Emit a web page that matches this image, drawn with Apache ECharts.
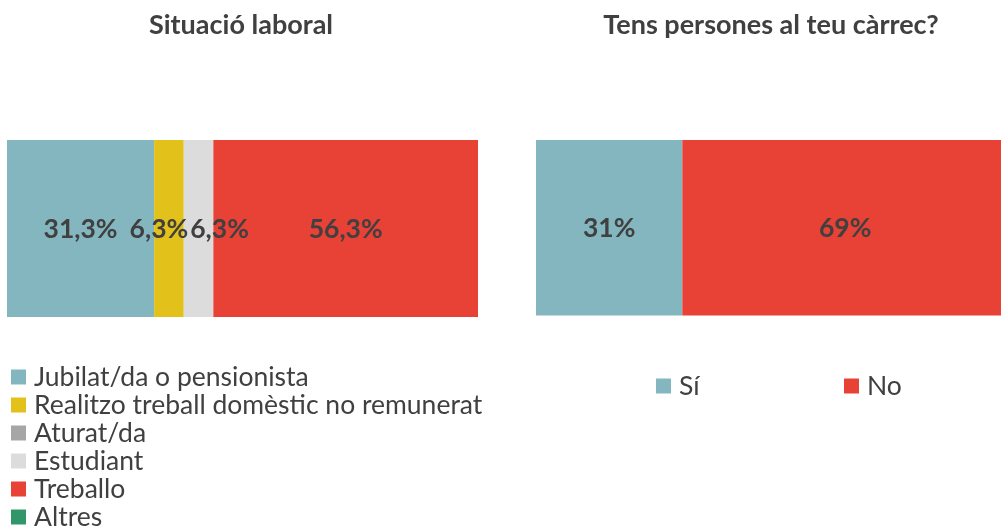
<!DOCTYPE html>
<html>
<head>
<meta charset="utf-8">
<script src="https://cdn.jsdelivr.net/npm/echarts@6/dist/echarts.min.js"></script>
<style>
html,body{margin:0;padding:0;background:#fff;}
#chart{width:1001px;height:530px;}
</style>
</head>
<body>
<div id="chart"></div>
<script>
const leftTitle = 'Situació laboral';
const leftCategories = ['Jubilat/da o pensionista', 'Realitzo treball domèstic no remunerat', 'Aturat/da', 'Estudiant', 'Treballo', 'Altres'];
const leftValues = [31.3, 6.3, 0, 6.3, 56.3, 0];

const rightTitle = 'Tens persones al teu càrrec?';
const rightCategories = ['Sí', 'No'];
const rightValues = [31, 69];

const leftColors = ['#84B6C0', '#E2C11B', '#A6A6A6', '#DCDCDC', '#E84135', '#31976A'];
const rightColors = ['#84B6C0', '#E84135'];
const leftLabelOffsets = [[0,1],[-10,1],[0,1],[21,1],[0,1],[0,1]];

const FONT = 'Lato';
const TEXT = '#404040';

const chart = echarts.init(document.getElementById('chart'), null, {renderer: 'canvas'});

function fmt(v, dec) {
  return v.toFixed(dec).replace('.', ',') + '%';
}

const leftSum = leftValues.reduce((a, b) => a + b, 0);
const rightSum = rightValues.reduce((a, b) => a + b, 0);

const series = [];
leftCategories.forEach((name, i) => {
  series.push({
    name: name,
    type: 'bar',
    stack: 'left',
    xAxisIndex: 0,
    yAxisIndex: 0,
    barWidth: '100%',
    data: [leftValues[i]],
    itemStyle: {color: leftColors[i]},
    label: {
      show: leftValues[i] > 0,
      position: 'inside',
      offset: leftLabelOffsets[i],
      formatter: p => p.value > 0 ? fmt(p.value, 1) : '',
      fontFamily: FONT, fontSize: 26.5, fontWeight: 'bold', color: TEXT
    }
  });
});
rightCategories.forEach((name, i) => {
  series.push({
    name: name,
    type: 'bar',
    stack: 'right',
    xAxisIndex: 1,
    yAxisIndex: 1,
    barWidth: '100%',
    data: [rightValues[i]],
    itemStyle: {color: rightColors[i]},
    label: {
      show: true,
      position: 'inside',
      offset: [0, 1],
      formatter: p => fmt(p.value, 0),
      fontFamily: FONT, fontSize: 26.5, fontWeight: 'bold', color: TEXT
    }
  });
});

const legendText = {fontFamily: FONT, fontSize: 26.5, color: TEXT, lineHeight: 28, padding: [0, 0, 0, 3]};

const option = {
  animation: false,
  backgroundColor: '#ffffff',
  title: [
    {text: leftTitle, left: 241, top: 12, padding: 0, textAlign: 'center',
     textStyle: {fontFamily: FONT, fontSize: 27, fontWeight: 'bold', color: TEXT}},
    {text: rightTitle, left: 771, top: 12, padding: 0, textAlign: 'center',
     textStyle: {fontFamily: FONT, fontSize: 27, fontWeight: 'bold', color: TEXT}}
  ],
  legend: [
    {data: leftCategories, orient: 'vertical', left: 11, top: 363, height: 200, padding: 0,
     itemWidth: 15, itemHeight: 15, itemGap: 0, icon: 'rect', textStyle: legendText},
    {data: [rightCategories[0]], left: 656, top: 372, padding: 0,
     itemWidth: 15, itemHeight: 15, icon: 'rect', textStyle: legendText},
    {data: [rightCategories[1]], left: 844, top: 372, padding: 0,
     itemWidth: 15, itemHeight: 15, icon: 'rect', textStyle: legendText}
  ],
  grid: [
    {left: 7, top: 140, width: 471, height: 177, outerBoundsMode: 'none'},
    {left: 536, top: 140, width: 472, height: 175.5, outerBoundsMode: 'none'}
  ],
  xAxis: [
    {type: 'value', gridIndex: 0, min: 0, max: leftSum, show: false},
    {type: 'value', gridIndex: 1, min: 0, max: rightSum, show: false}
  ],
  yAxis: [
    {type: 'category', gridIndex: 0, data: [''], show: false},
    {type: 'category', gridIndex: 1, data: [''], show: false}
  ],
  series: series
};
chart.setOption(option);
</script>
</body>
</html>
